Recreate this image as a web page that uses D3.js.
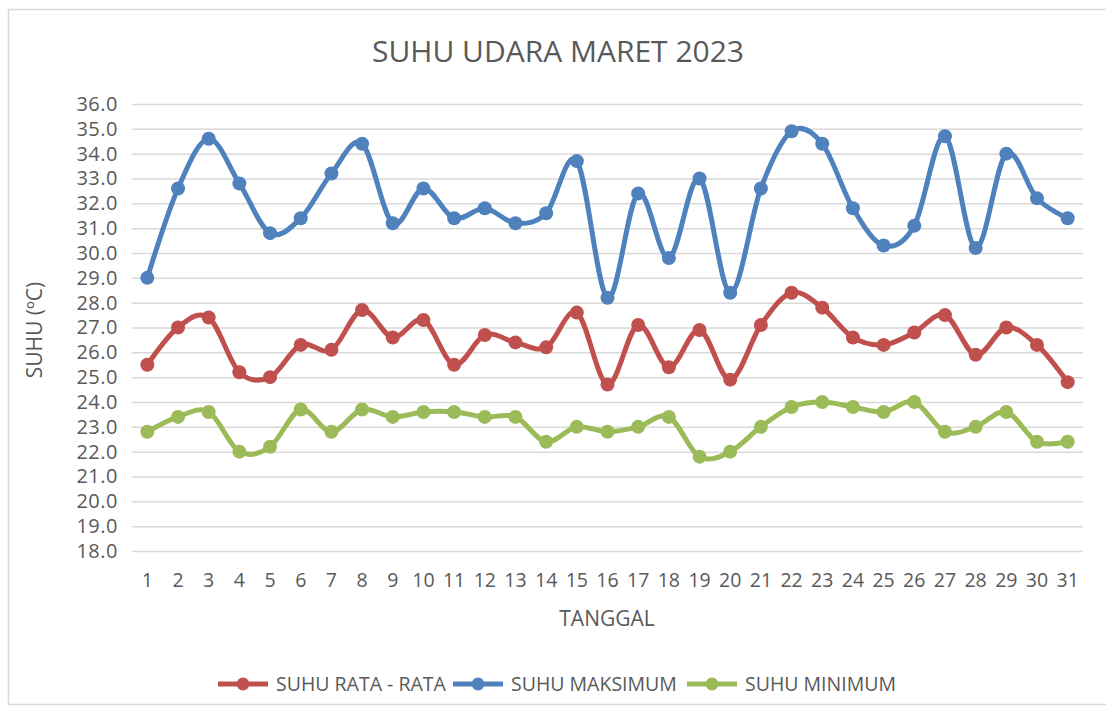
<!DOCTYPE html>
<html>
<head>
<meta charset="utf-8">
<script src="https://cdn.jsdelivr.net/npm/d3@7"></script>
<style>
  body { margin: 0; background: #fff; }
  svg text { font-family: "Open Sans", "Noto Sans", sans-serif; fill: #595959; }
</style>
</head>
<body>
<div id="chart"></div>
<script>
// data
var days = d3.range(1, 32).map(String);
var suhuRata = [25.5, 27.0, 27.4, 25.2, 25.0, 26.3, 26.1, 27.7, 26.6, 27.3, 25.5, 26.7, 26.4, 26.2, 27.6, 24.7,
                27.1, 25.4, 26.9, 24.9, 27.1, 28.4, 27.8, 26.6, 26.3, 26.8, 27.5, 25.9, 27.0, 26.3, 24.8];
var suhuMaks = [29.0, 32.6, 34.6, 32.8, 30.8, 31.4, 33.2, 34.4, 31.2, 32.6, 31.4, 31.8, 31.2, 31.6, 33.7, 28.2,
                32.4, 29.8, 33.0, 28.4, 32.6, 34.9, 34.4, 31.8, 30.3, 31.1, 34.7, 30.2, 34.0, 32.2, 31.4];
var suhuMin = [22.8, 23.4, 23.6, 22.0, 22.2, 23.7, 22.8, 23.7, 23.4, 23.6, 23.6, 23.4, 23.4, 22.4, 23.0, 22.8,
               23.0, 23.4, 21.8, 22.0, 23.0, 23.8, 24.0, 23.8, 23.6, 24.0, 22.8, 23.0, 23.6, 22.4, 22.4];
var yTicks = d3.range(18, 36.5, 1);
var seriesNames = ['SUHU RATA - RATA', 'SUHU MAKSIMUM', 'SUHU MINIMUM'];
var seriesColors = ['#C0504D', '#4F81BD', '#9BBB59'];

var series = [
    {name: seriesNames[0], color: seriesColors[0], values: suhuRata},
    {name: seriesNames[1], color: seriesColors[1], values: suhuMaks},
    {name: seriesNames[2], color: seriesColors[2], values: suhuMin}
];

var W = 1106, H = 710;
var plot = {left: 132, right: 1083, top: 104, bottom: 551};

var svg = d3.select('#chart').append('svg')
    .attr('width', W)
    .attr('height', H);

// chart frame
svg.append('rect')
    .attr('x', 8.5).attr('y', 9.5)
    .attr('width', W + 20).attr('height', 695)
    .attr('fill', 'none')
    .attr('stroke', '#d9d9d9')
    .attr('stroke-width', 1.5);

var x = d3.scaleBand()
    .domain(days)
    .range([plot.left, plot.right]);

var y = d3.scaleLinear()
    .domain([18, 36])
    .range([plot.bottom, plot.top]);

// grid + y labels
var yAxis = d3.axisLeft(y)
    .tickValues(yTicks)
    .tickFormat(d3.format('.1f'))
    .tickSize(-(plot.right - plot.left))
    .tickPadding(14);

var gy = svg.append('g')
    .attr('transform', 'translate(' + plot.left + ',0)')
    .call(yAxis);
gy.select('.domain').remove();
gy.selectAll('.tick line').attr('stroke', '#d9d9d9').attr('stroke-width', 1.5);
gy.selectAll('.tick text').attr('font-size', 20).attr('letter-spacing', 0.5).attr('fill', '#595959');

// x labels
var xAxis = d3.axisBottom(x).tickSize(0).tickPadding(22);
var gx = svg.append('g')
    .attr('transform', 'translate(0,' + plot.bottom + ')')
    .call(xAxis);
gx.select('.domain').remove();
gx.selectAll('.tick text').attr('font-size', 19.5).attr('fill', '#595959');

// titles
svg.append('text')
    .attr('x', 558).attr('y', 62)
    .attr('text-anchor', 'middle')
    .attr('font-size', 30)
    .text('SUHU UDARA MARET 2023');

svg.append('text')
    .attr('x', 607).attr('y', 626)
    .attr('text-anchor', 'middle')
    .attr('font-size', 21)
    .text('TANGGAL');

svg.append('text')
    .attr('transform', 'translate(42,330) rotate(-90)')
    .attr('text-anchor', 'middle')
    .attr('font-size', 21)
    .text('SUHU (ºC)');

// lines
var line = d3.line()
    .x(function(d, i){ return x(days[i]) + x.bandwidth() / 2; })
    .y(function(d){ return y(d); })
    .curve(d3.curveCardinal.tension(0));

var g = svg.append('g');
series.forEach(function(s){
    g.append('path')
        .datum(s.values)
        .attr('d', line)
        .attr('fill', 'none')
        .attr('stroke', s.color)
        .attr('stroke-width', 5);

    g.selectAll(null)
        .data(s.values)
        .enter().append('circle')
        .attr('cx', function(d, i){ return x(days[i]) + x.bandwidth() / 2; })
        .attr('cy', function(d){ return y(d); })
        .attr('r', 7)
        .attr('fill', s.color);
});

// legend
var legendX = [218, 453, 687];
var lg = svg.append('g').attr('transform', 'translate(0,684)');
series.forEach(function(s, i){
    var item = lg.append('g').attr('transform', 'translate(' + legendX[i] + ',0)');
    item.append('line')
        .attr('x1', 0).attr('x2', 50)
        .attr('stroke', s.color).attr('stroke-width', 5);
    item.append('circle')
        .attr('cx', 25).attr('r', 6.5).attr('fill', s.color);
    item.append('text')
        .attr('x', 58).attr('y', 7)
        .attr('font-size', 19.5)
        .text(s.name);
});
</script>
</body>
</html>
